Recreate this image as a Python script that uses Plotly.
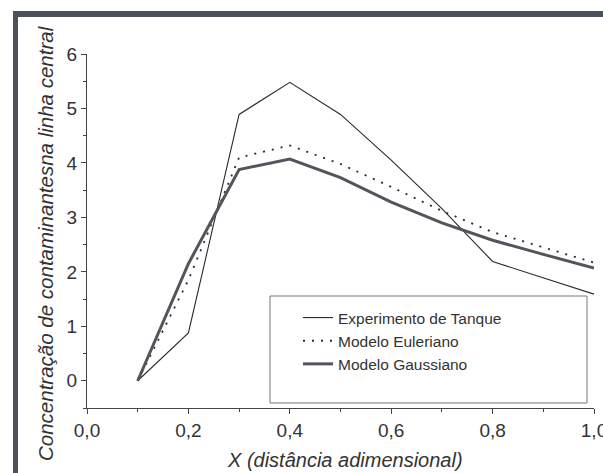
import plotly.graph_objects as go

x_exp = [0.1, 0.2, 0.3, 0.4, 0.5, 0.6, 0.7, 0.8, 1.0]
y_exp = [0.0, 0.88, 4.89, 5.48, 4.89, 4.05, 3.16, 2.19, 1.59]

x_mod = [0.1, 0.2, 0.3, 0.4, 0.5, 0.6, 0.7, 0.8, 0.9, 1.0]
y_eul = [0.0, 1.85, 4.1, 4.32, 3.98, 3.56, 3.12, 2.73, 2.45, 2.17]
y_gau = [0.0, 2.15, 3.88, 4.07, 3.73, 3.28, 2.9, 2.58, 2.32, 2.07]

names = ["Experimento de Tanque", "Modelo Euleriano", "Modelo Gaussiano"]
x_ticks = [0.0, 0.2, 0.4, 0.6, 0.8, 1.0]
x_ticklabels = ["0,0", "0,2", "0,4", "0,6", "0,8", "1,0"]
y_ticks = [0, 1, 2, 3, 4, 5, 6]

FONT = "Liberation Sans, Arial, sans-serif"

fig = go.Figure()
fig.add_trace(go.Scatter(x=x_exp, y=y_exp, mode="lines", name=names[0],
                         line=dict(color="#2a2a2a", width=1.1)))
fig.add_trace(go.Scatter(x=x_mod, y=y_eul, mode="lines", name=names[1],
                         line=dict(color="#2a2a2a", width=1.8, dash="2px,7px")))
fig.add_trace(go.Scatter(x=x_mod, y=y_gau, mode="lines", name=names[2],
                         line=dict(color="#51565c", width=3)))

W, H = 603, 473
L, R, T, B = 87, 9, 54, 65
pw, ph = W - L - R, H - T - B

def px(xp):
    return (xp - L) / pw

def py(yp):
    return (H - B - yp) / ph

frame = "#4b5259"
shapes = [
    dict(type="rect", xref="paper", yref="paper", x0=px(13), x1=px(620), y0=py(17), y1=py(11),
         fillcolor=frame, line=dict(width=0), layer="above"),
    dict(type="rect", xref="paper", yref="paper", x0=px(13), x1=px(18), y0=py(490), y1=py(11),
         fillcolor=frame, line=dict(width=0), layer="above"),
    dict(type="rect", xref="paper", yref="paper", x0=px(270), x1=px(587), y0=py(403), y1=py(296),
         fillcolor="rgba(0,0,0,0)", line=dict(color="#777777", width=1), layer="above"),
]

fig.update_layout(
    width=W, height=H,
    margin=dict(l=L, r=R, t=T, b=B, pad=0, autoexpand=False),
    paper_bgcolor="white", plot_bgcolor="white",
    font=dict(family=FONT, color="#333333"),
    showlegend=True,
    legend=dict(x=px(298), y=py(301), xanchor="left", yanchor="top",
                bgcolor="rgba(0,0,0,0)", borderwidth=0,
                font=dict(size=15.5, family=FONT, color="#333333"),
                tracegroupgap=0, itemwidth=30),
    shapes=shapes,
    xaxis=dict(range=[0, 1.0], tickvals=x_ticks, ticktext=x_ticklabels,
               ticklabeloverflow="allow", automargin=False,
               showgrid=False, zeroline=False, showline=True, linecolor="#444444", linewidth=1,
               ticks="outside", ticklen=5, tickcolor="#444444",
               minor=dict(dtick=0.1, ticks="outside", ticklen=3, tickcolor="#444444"),
               tickfont=dict(size=19, family=FONT, color="#333333")),
    yaxis=dict(range=[-0.5, 6], tickvals=y_ticks, automargin=False,
               showgrid=False, zeroline=False, showline=True, linecolor="#444444", linewidth=1,
               ticks="outside", ticklen=5, tickcolor="#444444",
               minor=dict(dtick=0.5, ticks="outside", ticklen=3, tickcolor="#444444"),
               tickfont=dict(size=19, family=FONT, color="#333333")),
    annotations=[
        dict(text="<i>X (distância adimensional)</i>", xref="paper", yref="paper",
             x=px(345), y=py(460), xanchor="center", yanchor="middle", showarrow=False,
             font=dict(size=20, family=FONT, color="#333333")),
        dict(text="<i>Concentração de contaminantesna linha central</i>", xref="paper", yref="paper",
             x=px(45), y=py(243), xanchor="center", yanchor="middle", showarrow=False, textangle=-90,
             font=dict(size=20.5, family=FONT, color="#333333")),
    ],
)

fig.write_html("out.html", config={"displayModeBar": False},
               post_script="document.body.style.margin='0px';document.body.style.overflow='hidden';")
